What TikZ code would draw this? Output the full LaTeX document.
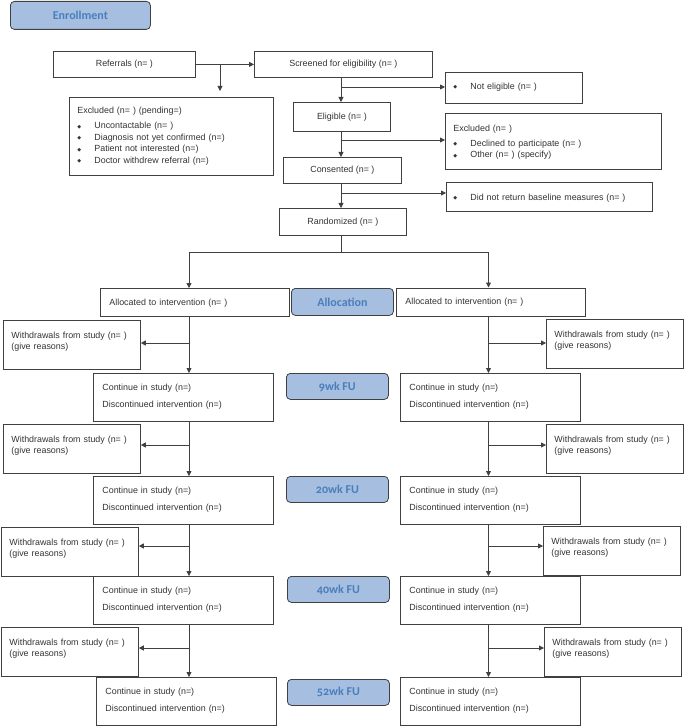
\documentclass[tikz,border=0pt]{standalone}
\usepackage{fontspec}
\setmainfont{Liberation Sans}
\newfontfamily\lblfont[Numbers=OldStyle]{Carlito}
\newfontfamily\symfont{DejaVu Sans}
\usetikzlibrary{arrows.meta}
\definecolor{ln}{HTML}{404040}
\definecolor{lblfill}{HTML}{A6BFE1}
\definecolor{lbltext}{HTML}{4A7EBB}
\definecolor{txt}{HTML}{333333}
\newcommand{\bulletmark}{\makebox[17pt][l]{\raisebox{0.8pt}{\symfont\fontsize{5}{5}\selectfont ◆}}}
\tikzset{
  box/.style={draw=ln, line width=0.8pt, text=txt, font=\fontsize{8.9}{11.5}\selectfont,
              inner sep=0pt, anchor=north west},
  cbox/.style n args={2}{box, minimum width=#1, minimum height=#2, align=center},
  lbox/.style n args={4}{box, align=left, inner xsep=#1, text width=#2, text height=#3, text depth=#4},
  wbox/.style={lbox={8pt}{121pt}{18pt}{31pt}},
  contbox/.style={lbox={9pt}{162pt}{17pt}{31pt}},
  allocbox/.style={lbox={9pt}{171pt}{17pt}{11pt}},
  lbl/.style={draw=ln, line width=0.8pt, rounded corners=4pt, fill=lblfill, text=lbltext,
              font=\lblfont\bfseries\fontsize{12}{14}\selectfont, inner sep=0pt,
              anchor=north west, minimum width=#1, align=center},
  arr/.style={draw=ln, line width=0.8pt, -{Triangle[length=5pt,width=5pt]}},
  ln/.style={draw=ln, line width=0.8pt},
}
\begin{document}
\begin{tikzpicture}[x=1pt,y=-1pt]
\useasboundingbox (0,0) rectangle (685,727);
% labels
\node[lbl=140pt, minimum height=28pt] (enroll) at (10,1) {Enrollment};
\node[lbl=102pt, minimum height=27pt] (lalloc) at (291,288) {Allocation};
\node[lbl=102pt, minimum height=26pt] (l9) at (286,373) {9wk FU};
\node[lbl=102pt, minimum height=26pt] (l20) at (286,476) {20wk FU};
\node[lbl=102pt, minimum height=26pt] (l40) at (287,576) {40wk FU};
\node[lbl=102pt, minimum height=26pt] (l52) at (287,679) {52wk FU};
% enrollment chain
\node[cbox={142pt}{26pt}] (ref) at (53,51) {Referrals (n= )};
\node[cbox={178pt}{26pt}] (scr) at (254,51) {Screened for eligibility (n= )};
\node[lbox={8pt}{188pt}{16pt}{62pt}] (excl) at (69,97)
  {Excluded (n= ) (pending=)\\[4pt]
   \bulletmark Uncontactable (n= )\\
   \bulletmark Diagnosis not yet confirmed (n=)\\
   \bulletmark Patient not interested (n=)\\
   \bulletmark Doctor withdrew referral (n=)};
\node[cbox={97pt}{29pt}] (elig) at (293,102) {Eligible (n= )};
\node[lbox={8pt}{121pt}{17pt}{14pt}] (notelig) at (445,72) {\bulletmark Not eligible (n= )};
\node[lbox={8pt}{200pt}{18pt}{38pt}] (excl2) at (445,113)
  {Excluded (n= )\\[3.5pt]
   \bulletmark Declined to participate (n= )\\
   \bulletmark Other (n= ) (specify)};
\node[cbox={118pt}{26pt}] (cons) at (283,157) {Consented (n= )};
\node[lbox={7pt}{192pt}{18pt}{11pt}] (dnr) at (446,182) {\bulletmark Did not return baseline measures (n= )};
\node[cbox={127pt}{27pt}] (rand) at (279,208) {Randomized (n= )};
% allocation
\node[allocbox] (allocL) at (100,288) {Allocated to intervention (n= )};
\node[allocbox] (allocR) at (396,287.5) {Allocated to intervention (n= )};
% follow-up left
\node[wbox] (wL1) at (3,320) {Withdrawals from study (n= )\\(give reasons)};
\node[contbox] (cL1) at (93,373) {Continue in study (n=)\\[5.5pt]Discontinued intervention (n=)};
\node[wbox] (wL2) at (3,424) {Withdrawals from study (n= )\\(give reasons)};
\node[contbox] (cL2) at (93,476) {Continue in study (n=)\\[5.5pt]Discontinued intervention (n=)};
\node[wbox] (wL3) at (1,527) {Withdrawals from study (n= )\\(give reasons)};
\node[contbox] (cL3) at (93,576) {Continue in study (n=)\\[5.5pt]Discontinued intervention (n=)};
\node[wbox] (wL4) at (1,627) {Withdrawals from study (n= )\\(give reasons)};
\node[contbox] (cL4) at (96,677) {Continue in study (n=)\\[5.5pt]Discontinued intervention (n=)};
% follow-up right
\node[wbox] (wR1) at (546,319) {Withdrawals from study (n= )\\(give reasons)};
\node[contbox] (cR1) at (400,373) {Continue in study (n=)\\[5.5pt]Discontinued intervention (n=)};
\node[wbox] (wR2) at (546,424) {Withdrawals from study (n= )\\(give reasons)};
\node[contbox] (cR2) at (400,476) {Continue in study (n=)\\[5.5pt]Discontinued intervention (n=)};
\node[wbox] (wR3) at (543,526) {Withdrawals from study (n= )\\(give reasons)};
\node[contbox] (cR3) at (400,576) {Continue in study (n=)\\[5.5pt]Discontinued intervention (n=)};
\node[wbox] (wR4) at (544,627) {Withdrawals from study (n= )\\(give reasons)};
\node[contbox] (cR4) at (400,677) {Continue in study (n=)\\[5.5pt]Discontinued intervention (n=)};
% guide coordinates
\coordinate (xL) at (189,0);
\coordinate (xR) at (488.5,0);
\coordinate (b0) at (220,64);
\coordinate (b1) at (341,87);
\coordinate (b2) at (341,140);
\coordinate (b3) at (341,193);
\coordinate (rj) at (341,252);
\coordinate (y1) at (0,343);
\coordinate (y2) at (0,445);
\coordinate (y3) at (0,546);
\coordinate (y4) at (0,648);
% enrollment connectors
\draw[arr] (ref.east) -- (scr.west);
\draw[arr, shorten >=6pt] (b0) -- (b0 |- excl.north);
\draw[arr] (scr.south -| b1) -- (elig.north -| b1);
\draw[arr] (b1) -- (b1 -| notelig.west);
\draw[arr] (elig.south -| b2) -- (cons.north -| b2);
\draw[arr] (b2) -- (b2 -| excl2.west);
\draw[arr] (cons.south -| b3) -- (rand.north -| b3);
\draw[arr] (b3) -- (b3 -| dnr.west);
\draw[ln] (rand.south -| rj) -- (rj);
\draw[arr] (rj) -| (allocL.north -| xL);
\draw[arr] (rj) -| (allocR.north -| xR);
% left column
\draw[arr] (allocL.south -| xL) -- (cL1.north -| xL);
\draw[arr] (xL |- y1) -- (wL1.east |- y1);
\draw[arr] (cL1.south -| xL) -- (cL2.north -| xL);
\draw[arr] (xL |- y2) -- (wL2.east |- y2);
\draw[arr] (cL2.south -| xL) -- (cL3.north -| xL);
\draw[arr] (xL |- y3) -- (wL3.east |- y3);
\draw[arr] (cL3.south -| xL) -- (cL4.north -| xL);
\draw[arr] (xL |- y4) -- (wL4.east |- y4);
% right column
\draw[arr] (allocR.south -| xR) -- (cR1.north -| xR);
\draw[arr] (xR |- y1) -- (wR1.west |- y1);
\draw[arr] (cR1.south -| xR) -- (cR2.north -| xR);
\draw[arr] (xR |- y2) -- (wR2.west |- y2);
\draw[arr] (cR2.south -| xR) -- (cR3.north -| xR);
\draw[arr] (xR |- y3) -- (wR3.west |- y3);
\draw[arr] (cR3.south -| xR) -- (cR4.north -| xR);
\draw[arr] (xR |- y4) -- (wR4.west |- y4);
\end{tikzpicture}
\end{document}
